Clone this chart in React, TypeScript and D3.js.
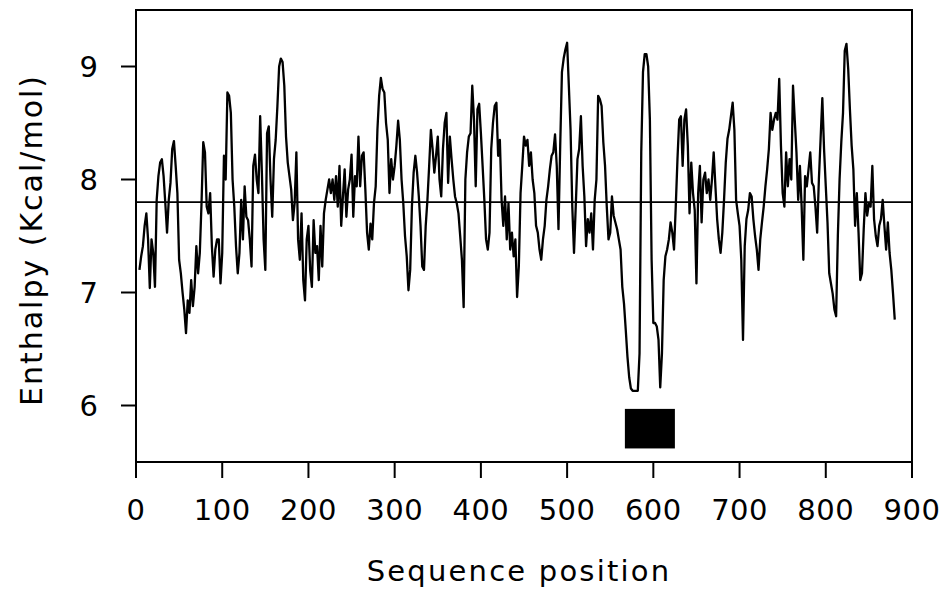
import * as d3 from 'd3';
import { useEffect, useRef } from 'react';

// sequence positions run from seqStart in steps of seqStep
const seqStart = 4;
const seqStep = 2;

// enthalpy profile (Kcal/mol)
const enthalpy = [
    7.20, 7.32, 7.41, 7.59, 7.70, 7.47, 7.04, 7.47, 7.35, 7.05,
    7.82, 8.03, 8.15, 8.18, 8.03, 7.79, 7.53, 7.82, 7.97, 8.27,
    8.34, 8.12, 7.88, 7.29, 7.17, 7.00, 6.85, 6.64, 6.93, 6.82,
    7.11, 6.88, 7.05, 7.41, 7.17, 7.35, 7.79, 8.33, 8.24, 7.76,
    7.70, 7.88, 7.41, 7.14, 7.38, 7.47, 7.47, 7.08, 7.35, 8.21,
    8.00, 8.77, 8.74, 8.59, 8.00, 7.76, 7.41,
    // 118 - 232
    7.17, 7.35, 7.82, 7.47, 7.94, 7.67, 7.64, 7.47, 7.23, 8.12,
    8.22, 8.00, 7.88, 8.56, 8.06, 7.47, 7.20, 8.41, 8.47, 8.00,
    7.67, 8.18, 8.35, 8.65, 9.00, 9.07, 9.04, 8.83, 8.38, 8.15,
    8.03, 7.91, 7.64, 7.79, 8.24, 7.47, 7.29, 7.70, 7.11, 6.93,
    7.47, 7.59, 7.20, 7.05, 7.64, 7.35, 7.41, 7.11, 7.59, 7.23,
    7.70, 7.82, 7.91, 8.00, 7.88, 8.00, 7.82, 8.03,
    // 234 - 348
    7.76, 8.12, 7.59, 7.85, 8.09, 7.67, 7.91, 8.00, 8.22, 7.67,
    8.03, 7.94, 8.38, 7.94, 8.21, 8.24, 7.91, 7.53, 7.38, 7.61,
    7.47, 7.79, 7.94, 8.44, 8.74, 8.90, 8.80, 8.77, 8.50, 8.35,
    7.88, 8.18, 8.00, 8.12, 8.30, 8.52, 8.35, 8.00, 7.79, 7.50,
    7.32, 7.02, 7.20, 7.76, 8.06, 8.21, 8.06, 7.85, 7.59, 7.23,
    7.20, 7.59, 7.82, 8.12, 8.44, 8.27, 8.06, 8.21,
    // 350 - 464
    8.38, 8.00, 7.85, 8.27, 8.50, 8.59, 7.97, 8.38, 8.18, 8.00,
    7.85, 7.79, 7.70, 7.50, 7.29, 6.87, 8.00, 8.24, 8.38, 8.41,
    8.83, 8.53, 7.94, 8.62, 8.67, 8.41, 8.12, 7.82, 7.47, 7.38,
    7.53, 8.27, 8.50, 8.65, 8.68, 8.21, 8.35, 7.82, 7.59, 7.85,
    7.47, 7.79, 7.38, 7.53, 7.32, 7.47, 6.96, 7.23, 7.88, 8.12,
    8.38, 8.30, 8.35, 8.12, 8.24, 8.00, 7.88, 7.59,
    // 466 - 580
    7.53, 7.38, 7.29, 7.47, 7.59, 7.82, 7.94, 8.09, 8.21, 8.24,
    8.40, 8.12, 7.56, 8.30, 8.95, 9.07, 9.15, 9.21, 8.83, 8.44,
    7.76, 7.35, 7.76, 8.18, 8.27, 8.56, 8.12, 7.85, 7.41, 7.65,
    7.53, 7.70, 7.38, 7.82, 8.00, 8.74, 8.71, 8.65, 8.33, 8.12,
    7.76, 7.47, 7.53, 7.85, 7.68, 7.62, 7.56, 7.47, 7.38, 7.05,
    6.90, 6.67, 6.43, 6.25, 6.15, 6.13, 6.13, 6.13,
    // 582 - 696
    6.13, 6.46, 8.24, 8.95, 9.11, 9.11, 9.00, 8.53, 7.29, 6.73,
    6.73, 6.70, 6.58, 6.16, 6.46, 7.11, 7.32, 7.38, 7.47, 7.62,
    7.53, 7.38, 7.76, 8.18, 8.53, 8.56, 8.12, 8.53, 8.62, 8.30,
    7.70, 8.15, 7.88, 7.73, 7.08, 7.88, 8.12, 7.62, 8.00, 8.06,
    7.88, 8.00, 7.82, 8.00, 8.24, 7.94, 7.65, 7.47, 7.35, 7.53,
    7.82, 8.15, 8.36, 8.44, 8.56, 8.68, 8.44, 7.82,
    // 698 - 812
    7.70, 7.59, 7.29, 6.58, 7.41, 7.65, 7.73, 7.88, 7.85, 7.65,
    7.50, 7.38, 7.20, 7.47, 7.62, 7.76, 7.94, 8.09, 8.27, 8.59,
    8.44, 8.53, 8.59, 8.53, 8.89, 8.30, 7.88, 7.76, 8.24, 7.94,
    8.18, 8.00, 8.83, 8.53, 8.24, 7.82, 8.12, 7.76, 7.29, 8.03,
    7.94, 8.09, 8.24, 7.97, 7.94, 7.76, 7.53, 8.00, 8.36, 8.72,
    8.27, 7.94, 7.62, 7.17, 7.08, 6.99, 6.85, 6.79,
    // 814 - 880
    7.50, 8.00, 8.33, 8.59, 9.14, 9.20, 8.98, 8.62, 8.30, 8.09,
    7.59, 7.88, 7.53, 7.11, 7.17, 7.56, 7.88, 7.68, 7.79, 7.76,
    8.12, 7.65, 7.50, 7.41, 7.59, 7.65, 7.82, 7.59, 7.38, 7.62,
    7.35, 7.20, 6.99, 6.76,
];

const meanEnthalpy = 7.8;
const xTicks = [0, 100, 200, 300, 400, 500, 600, 700, 800, 900];
const yTicks = [6, 7, 8, 9];
// marked segment (black box under the two minima)
const regions = [{ start: 567, end: 625, low: 5.62, high: 5.97 }];

const W = 942, H = 589;
const margin = { top: 10, right: 30, bottom: 127, left: 136 };
const font = '"DejaVu Sans", Verdana, sans-serif';

function App() {
    const svgRef = useRef<SVGSVGElement>(null);

    useEffect(() => {
        const svg = d3.select(svgRef.current);
        svg.selectAll('*').remove();

        const x = d3.scaleLinear().domain([0, 900]).range([margin.left, W - margin.right]);
        const y = d3.scaleLinear().domain([5.5, 9.5]).range([H - margin.bottom, margin.top]);

        const points = enthalpy.map((v, i) => [seqStart + i * seqStep, v] as [number, number]);

        // profile
        const line = d3.line<[number, number]>()
            .x(d => x(d[0]))
            .y(d => y(d[1]));
        svg.append('path')
            .datum(points)
            .attr('fill', 'none')
            .attr('stroke', '#000')
            .attr('stroke-width', 2.3)
            .attr('stroke-linejoin', 'round')
            .attr('d', line);

        // mean line
        svg.append('line')
            .attr('x1', x(0)).attr('x2', x(900))
            .attr('y1', y(meanEnthalpy)).attr('y2', y(meanEnthalpy))
            .attr('stroke', '#000')
            .attr('stroke-width', 1.8);

        // marked region
        svg.selectAll('rect.region')
            .data(regions)
            .join('rect')
            .attr('class', 'region')
            .attr('x', d => x(d.start))
            .attr('width', d => x(d.end) - x(d.start))
            .attr('y', d => y(d.high))
            .attr('height', d => y(d.low) - y(d.high))
            .attr('fill', '#000');

        // frame
        svg.append('rect')
            .attr('x', x(0)).attr('y', y(9.5))
            .attr('width', x(900) - x(0))
            .attr('height', y(5.5) - y(9.5))
            .attr('fill', 'none')
            .attr('stroke', '#000')
            .attr('stroke-width', 2);

        // y axis
        const yAxis = svg.append('g');
        yAxis.selectAll('line')
            .data(yTicks)
            .join('line')
            .attr('x1', x(0) - 15).attr('x2', x(0))
            .attr('y1', d => y(d)).attr('y2', d => y(d))
            .attr('stroke', '#000').attr('stroke-width', 2);
        yAxis.selectAll('text')
            .data(yTicks)
            .join('text')
            .attr('x', 98)
            .attr('y', d => y(d))
            .attr('dy', '0.36em')
            .attr('text-anchor', 'end')
            .style('font-family', font)
            .style('font-size', '29px')
            .text(d => d);

        // x axis
        const xAxis = svg.append('g');
        xAxis.selectAll('line')
            .data(xTicks)
            .join('line')
            .attr('x1', d => x(d)).attr('x2', d => x(d))
            .attr('y1', y(5.5)).attr('y2', y(5.5) + 16)
            .attr('stroke', '#000').attr('stroke-width', 2);
        xAxis.selectAll('text')
            .data(xTicks)
            .join('text')
            .attr('x', d => x(d))
            .attr('y', 520)
            .attr('text-anchor', 'middle')
            .style('font-family', font)
            .style('font-size', '29px')
            .style('letter-spacing', '0.5px')
            .text(d => d);

        // titles
        svg.append('text')
            .attr('x', 519)
            .attr('y', 581)
            .attr('text-anchor', 'middle')
            .style('font-family', font)
            .style('font-size', '29px')
            .style('letter-spacing', '2.2px')
            .text('Sequence position');

        svg.append('text')
            .attr('transform', `translate(42,240) rotate(-90)`)
            .attr('text-anchor', 'middle')
            .style('font-family', font)
            .style('font-size', '30px')
            .style('letter-spacing', '2px')
            .text('Enthalpy (Kcal/mol)');
    }, []);

    return (
        <svg ref={svgRef} width={W} height={H}
            style={{ position: 'absolute', left: 0, top: 0, background: '#fff' }} />
    );
}

export default App;
